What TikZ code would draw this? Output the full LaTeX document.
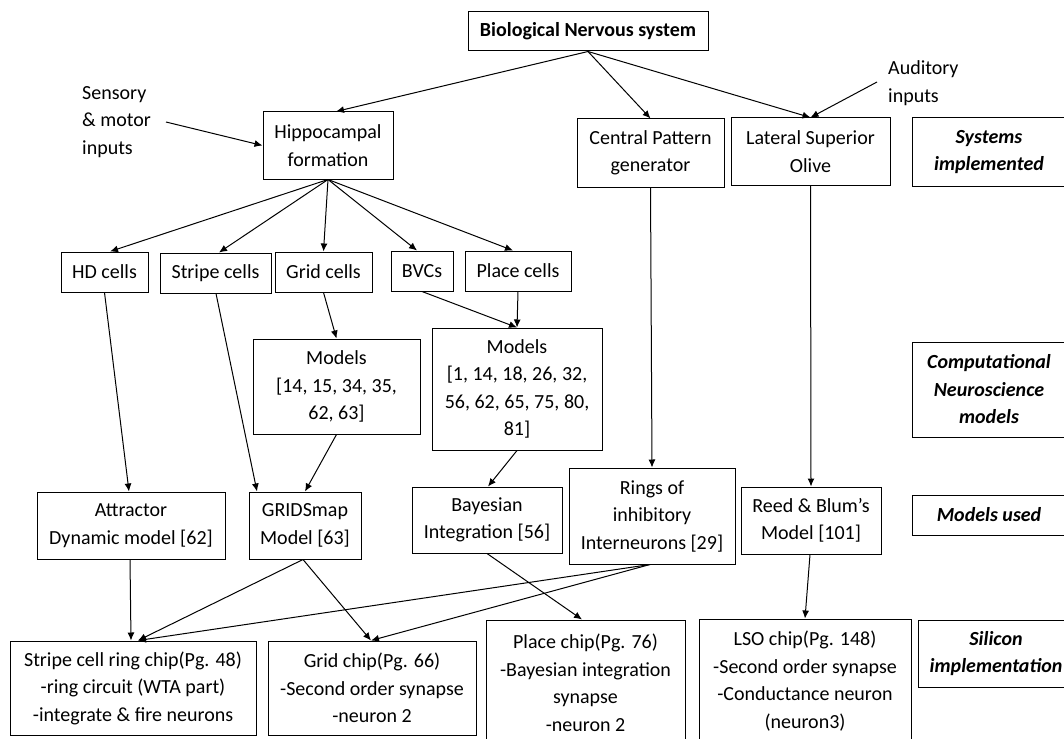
\documentclass[tikz,border=0pt]{standalone}
\usepackage{fontspec}
\setmainfont{Carlito}
\usetikzlibrary{arrows.meta}
\tikzset{
  box/.style={draw, line width=1pt, inner sep=0pt, align=center,
    font=\fontsize{20}{27.5}\selectfont},
  lbl/.style={inner sep=0pt, align=left, font=\fontsize{20}{27.5}\selectfont},
  side/.style={box, font=\fontsize{20}{27.5}\selectfont\bfseries\itshape},
  arr/.style={line width=1pt, -{Latex[length=8pt,width=7pt]}},
}
\begin{document}
\begin{tikzpicture}[x=1pt,y=-1pt]
\useasboundingbox (0,0) rectangle (1064,738);
\clip (0,0) rectangle (1064,738);
% top
\node[box, minimum width=240pt, minimum height=39pt, font=\fontsize{20}{27.5}\selectfont\bfseries] (bio) at (588,31.5) {Biological Nervous system};
\node[lbl, anchor=west] (sens) at (82,122) {Sensory\\\& motor\\inputs};
\coordinate (sensend) at (166,122);
\node[lbl, anchor=west] (aud) at (888,83) {Auditory\\inputs};
\coordinate (audend) at (877,82);
% systems row
\node[box, minimum width=130pt, minimum height=67pt] (hippo) at (328,145.5) {Hippocampal\\formation};
\node[box, minimum width=147pt, minimum height=68pt] (cpg) at (650.5,153) {Central Pattern\\generator};
\node[box, minimum width=159pt, minimum height=67pt] (lso) at (810.5,151.5) {Lateral Superior\\Olive};
\node[side, minimum width=154pt, minimum height=68pt] (sys) at (989,152) {Systems\\implemented};
% cells row
\node[box, minimum width=87pt, minimum height=40pt] (hd) at (104.5,272) {HD cells};
\node[box, minimum width=111pt, minimum height=40pt] (stripe) at (215.5,273) {Stripe cells};
\node[box, minimum width=97pt, minimum height=40pt] (grid) at (323.5,272) {Grid cells};
\node[box, minimum width=62pt, minimum height=40pt] (bvc) at (422,271) {BVCs};
\node[box, minimum width=106pt, minimum height=40pt] (place) at (518,271) {Place cells};
% computational models
\node[box, minimum width=167pt, minimum height=95pt] (mg) at (336.5,386.5) {Models\\{[}14, 15, 34, 35,\\62, 63{]}};
\node[box, minimum width=170pt, minimum height=122pt] (mp) at (517,389) {Models\\{[}1, 14, 18, 26, 32,\\56, 62, 65, 75, 80,\\81{]}};
\node[side, minimum width=154pt, minimum height=95pt] (comp) at (989,389.5) {Computational\\Neuroscience\\models};
% models used
\node[box, minimum width=188pt, minimum height=67pt] (attr) at (131,525.5) {Attractor\\Dynamic model [62]};
\node[box, minimum width=112pt, minimum height=67pt] (gmap) at (305,525.5) {GRIDSmap\\Model [63]};
\node[box, minimum width=150pt, minimum height=66pt] (bayes) at (487,520) {Bayesian\\Integration [56]};
\node[box, minimum width=166pt, minimum height=96pt] (rings) at (652,516) {Rings of\\inhibitory\\Interneurons [29]};
\node[box, minimum width=140pt, minimum height=67pt] (reed) at (811,520.5) {Reed \& Blum’s\\Model [101]};
\node[side, minimum width=154pt, minimum height=40pt] (mused) at (989,515) {Models used};
% silicon
\node[box, minimum width=246pt, minimum height=94pt] (schip) at (133,688) {Stripe cell ring chip(Pg. 48)\\-ring circuit (WTA part)\\-integrate \& fire neurons};
\node[box, minimum width=208pt, minimum height=94pt] (gchip) at (372,688) {Grid chip(Pg. 66)\\-Second order synapse\\-neuron 2};
\node[box, minimum width=199pt, minimum height=125pt] (pchip) at (585.5,682.5) {Place chip(Pg. 76)\\-Bayesian integration\\synapse\\-neuron 2};
\node[box, minimum width=212pt, minimum height=124pt] (lchip) at (805,681) {LSO chip(Pg. 148)\\-Second order synapse\\-Conductance neuron\\(neuron3)};
\node[side, minimum width=156pt, minimum height=67pt] (sil) at (996,653.5) {Silicon\\implementation};
% connectors
\draw[arr] (bio.south) -- ([xshift=8pt]hippo.north);
\draw[arr] (bio.south) -- (cpg.north);
\draw[arr] (bio.south) -- (lso.north);
\draw[arr] (sensend) -- (hippo.west);
\draw[arr] (audend) -- (lso.north);
\draw[arr] (hippo.south) -- ([xshift=5.5pt]hd.north);
\draw[arr] (hippo.south) -- ([xshift=3.5pt]stripe.north);
\draw[arr] (hippo.south) -- (grid.north);
\draw[arr] (hippo.south) -- ([xshift=-5pt]bvc.north);
\draw[arr] (hippo.south) -- ([xshift=-5pt]place.north);
\draw[arr] (grid.south) -- (mg.north);
\draw[arr] (bvc.south) -- (mp.north);
\draw[arr] (place.south) -- (mp.north);
\draw[arr] (hd.south) -- ([xshift=-2pt]attr.north);
\draw[arr] ([xshift=0.5pt]stripe.south) -- ([xshift=-48pt]gmap.north);
\draw[arr] (mg.south) -- (gmap.north);
\draw[arr] (mp.south) -- ([xshift=1pt]bayes.north);
\draw[arr] (cpg.south) -- (rings.north);
\draw[arr] (lso.south) -- (reed.north);
\draw[arr] ([xshift=-1pt]attr.south) -- ([xshift=-2pt]schip.north);
\draw[arr] ([xshift=-2pt]gmap.south) -- ([xshift=5pt]schip.north);
\draw[arr] ([xshift=-2pt]gmap.south) -- ([xshift=-1pt]gchip.north);
\draw[arr] ([xshift=-2pt]rings.south) -- ([xshift=5pt]schip.north);
\draw[arr] ([xshift=-2pt]rings.south) -- ([xshift=-1pt]gchip.north);
\draw[arr] (bayes.south) -- ([xshift=-3.5pt]pchip.north);
\draw[arr] ([xshift=-1pt]reed.south) -- (lchip.north);
\end{tikzpicture}
\end{document}
